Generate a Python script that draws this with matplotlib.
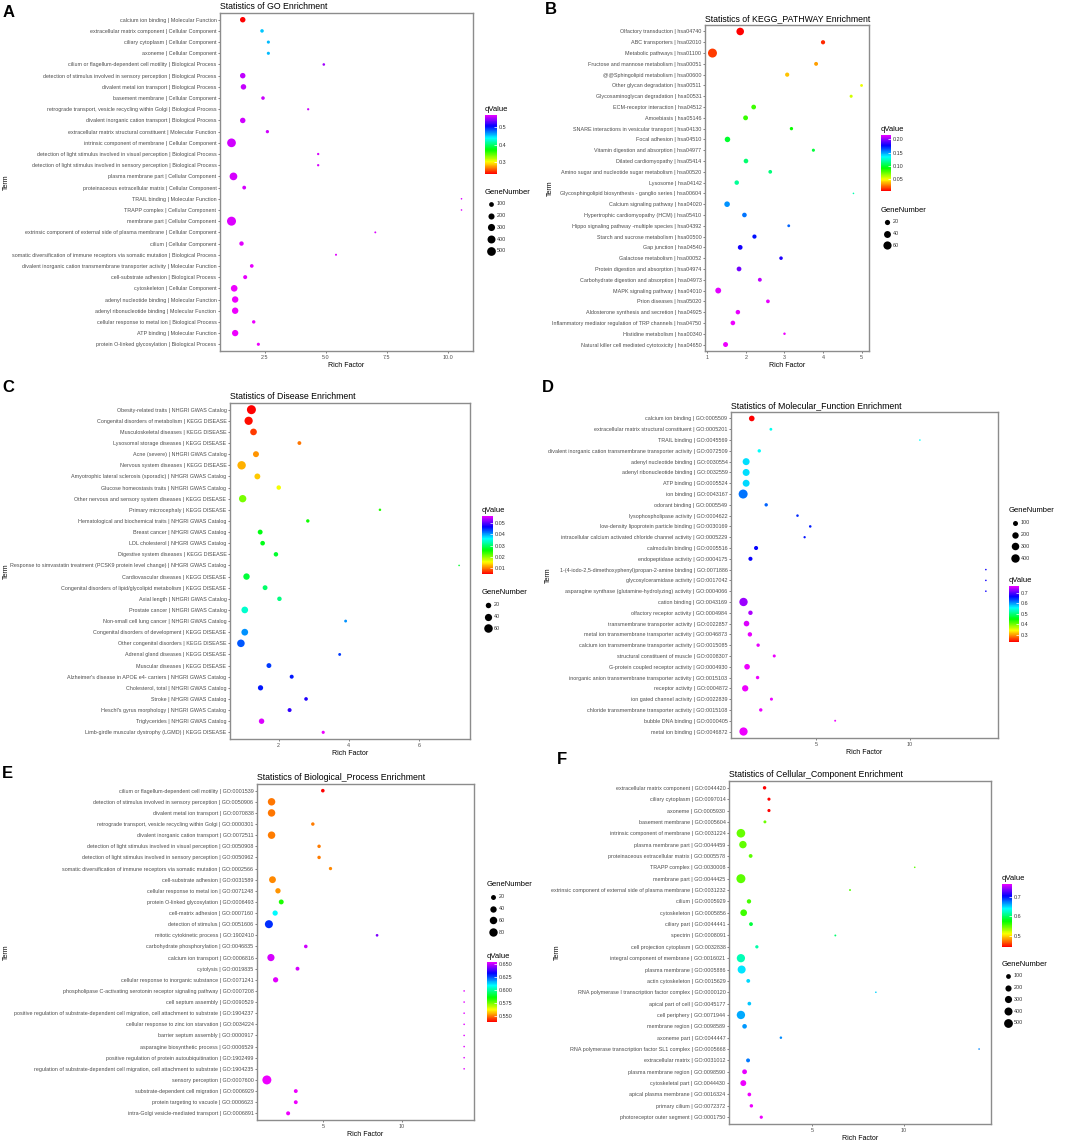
import numpy as np
import matplotlib
matplotlib.use("Agg")
import matplotlib.pyplot as plt
from matplotlib.colors import LinearSegmentedColormap, Normalize
from matplotlib.cm import ScalarMappable

# ---------------- data ----------------
terms_a = [
    "calcium ion binding | Molecular Function",
    "extracellular matrix component | Cellular Component",
    "ciliary cytoplasm | Cellular Component",
    "axoneme | Cellular Component",
    "cilium or flagellum-dependent cell motility | Biological Process",
    "detection of stimulus involved in sensory perception | Biological Process",
    "divalent metal ion transport | Biological Process",
    "basement membrane | Cellular Component",
    "retrograde transport, vesicle recycling within Golgi | Biological Process",
    "divalent inorganic cation transport | Biological Process",
    "extracellular matrix structural constituent | Molecular Function",
    "intrinsic component of membrane | Cellular Component",
    "detection of light stimulus involved in visual perception | Biological Process",
    "detection of light stimulus involved in sensory perception | Biological Process",
    "plasma membrane part | Cellular Component",
    "proteinaceous extracellular matrix | Cellular Component",
    "TRAIL binding | Molecular Function",
    "TRAPP complex | Cellular Component",
    "membrane part | Cellular Component",
    "extrinsic component of external side of plasma membrane | Cellular Component",
    "cilium | Cellular Component",
    "somatic diversification of immune receptors via somatic mutation | Biological Process",
    "divalent inorganic cation transmembrane transporter activity | Molecular Function",
    "cell-substrate adhesion | Biological Process",
    "cytoskeleton | Cellular Component",
    "adenyl nucleotide binding | Molecular Function",
    "adenyl ribonucleotide binding | Molecular Function",
    "cellular response to metal ion | Biological Process",
    "ATP binding | Molecular Function",
    "protein O-linked glycosylation | Biological Process",
]
rich_a = [1.60, 2.39, 2.65, 2.65, 4.92, 1.60, 1.63, 2.43, 4.28, 1.60, 2.61, 1.14, 4.69, 4.69, 1.22,
          1.66, 10.56, 10.56, 1.14, 7.03, 1.55, 5.42, 1.97, 1.70, 1.25, 1.29, 1.29, 2.05, 1.29, 2.24]
genes_a = [150, 40, 25, 25, 12, 150, 150, 40, 6, 150, 30, 500, 7, 7, 370,
           50, 2, 2, 540, 3, 80, 4, 45, 60, 250, 230, 230, 35, 220, 25]
q_a = [0.234, 0.452, 0.455, 0.455, 0.548, 0.556, 0.557, 0.558, 0.558, 0.559, 0.560, 0.560, 0.561, 0.561, 0.562,
       0.562, 0.563, 0.563, 0.564, 0.564, 0.565, 0.565, 0.566, 0.566, 0.567, 0.567, 0.567, 0.568, 0.568, 0.568]

terms_b = [
    "Olfactory transduction | hsa04740",
    "ABC transporters | hsa02010",
    "Metabolic pathways | hsa01100",
    "Fructose and mannose metabolism | hsa00051",
    "@@Sphingolipid metabolism | hsa00600",
    "Other glycan degradation | hsa00511",
    "Glycosaminoglycan degradation | hsa00531",
    "ECM-receptor interaction | hsa04512",
    "Amoebiasis | hsa05146",
    "SNARE interactions in vesicular transport | hsa04130",
    "Focal adhesion | hsa04510",
    "Vitamin digestion and absorption | hsa04977",
    "Dilated cardiomyopathy | hsa05414",
    "Amino sugar and nucleotide sugar metabolism | hsa00520",
    "Lysosome | hsa04142",
    "Glycosphingolipid biosynthesis - ganglio series | hsa00604",
    "Calcium signaling pathway | hsa04020",
    "Hypertrophic cardiomyopathy (HCM) | hsa05410",
    "Hippo signaling pathway -multiple species | hsa04392",
    "Starch and sucrose metabolism | hsa00500",
    "Gap junction | hsa04540",
    "Galactose metabolism | hsa00052",
    "Protein digestion and absorption | hsa04974",
    "Carbohydrate digestion and absorption | hsa04973",
    "MAPK signaling pathway | hsa04010",
    "Prion diseases | hsa05020",
    "Aldosterone synthesis and secretion | hsa04925",
    "Inflammatory mediator regulation of TRP channels | hsa04750",
    "Histidine metabolism | hsa00340",
    "Natural killer cell mediated cytotoxicity | hsa04650",
]
rich_b = [1.85, 4.00, 1.13, 3.82, 3.07, 5.00, 4.73, 2.20, 1.99, 3.18, 1.52, 3.75, 2.00, 2.63, 1.76,
          4.79, 1.51, 1.96, 3.11, 2.22, 1.85, 2.91, 1.82, 2.36, 1.28, 2.57, 1.79, 1.66, 3.00, 1.47]
genes_b = [50, 12, 75, 10, 12, 5, 6, 16, 17, 7, 23, 6, 15, 9, 14,
           3, 24, 15, 5, 12, 16, 8, 16, 10, 27, 9, 14, 15, 4, 18]
q_b = [0.007, 0.015, 0.018, 0.034, 0.040, 0.053, 0.057, 0.082, 0.083, 0.091, 0.100, 0.101, 0.110, 0.112, 0.118,
       0.121, 0.153, 0.157, 0.160, 0.174, 0.180, 0.182, 0.195, 0.208, 0.214, 0.215, 0.215, 0.216, 0.216, 0.216]

terms_c = [
    "Obesity-related traits | NHGRI GWAS Catalog",
    "Congenital disorders of metabolism | KEGG DISEASE",
    "Musculoskeletal diseases | KEGG DISEASE",
    "Lysosomal storage diseases | KEGG DISEASE",
    "Acne (severe) | NHGRI GWAS Catalog",
    "Nervous system diseases | KEGG DISEASE",
    "Amyotrophic lateral sclerosis (sporadic) | NHGRI GWAS Catalog",
    "Glucose homeostasis traits | NHGRI GWAS Catalog",
    "Other nervous and sensory system diseases | KEGG DISEASE",
    "Primary microcephaly | KEGG DISEASE",
    "Hematological and biochemical traits | NHGRI GWAS Catalog",
    "Breast cancer | NHGRI GWAS Catalog",
    "LDL cholesterol | NHGRI GWAS Catalog",
    "Digestive system diseases | KEGG DISEASE",
    "Response to simvastatin treatment (PCSK9 protein level change) | NHGRI GWAS Catalog",
    "Cardiovascular diseases | KEGG DISEASE",
    "Congenital disorders of lipid/glycolipid metabolism | KEGG DISEASE",
    "Axial length | NHGRI GWAS Catalog",
    "Prostate cancer | NHGRI GWAS Catalog",
    "Non-small cell lung cancer | NHGRI GWAS Catalog",
    "Congenital disorders of development | KEGG DISEASE",
    "Other congenital disorders | KEGG DISEASE",
    "Adrenal gland diseases | KEGG DISEASE",
    "Muscular diseases | KEGG DISEASE",
    "Alzheimer's disease in APOE e4- carriers | NHGRI GWAS Catalog",
    "Cholesterol, total | NHGRI GWAS Catalog",
    "Stroke | NHGRI GWAS Catalog",
    "Heschl's gyrus morphology | NHGRI GWAS Catalog",
    "Triglycerides | NHGRI GWAS Catalog",
    "Limb-girdle muscular dystrophy (LGMD) | KEGG DISEASE",
]
rich_c = [1.22, 1.14, 1.28, 2.59, 1.35, 0.94, 1.39, 2.00, 0.97, 4.89, 2.83, 1.47, 1.54, 1.92, 7.15,
          1.08, 1.61, 2.02, 1.03, 3.91, 1.03, 0.92, 3.74, 1.72, 2.37, 1.48, 2.78, 2.31, 1.51, 3.27]
genes_c = [68, 55, 33, 8, 25, 58, 24, 12, 42, 3, 6, 15, 13, 12, 2,
           30, 15, 12, 33, 4, 34, 45, 4, 15, 9, 18, 7, 9, 20, 5]
q_c = [0.0043, 0.0050, 0.0071, 0.0093, 0.0106, 0.0120, 0.0128, 0.0156, 0.0207, 0.0244, 0.0250, 0.0263, 0.0265,
       0.0276, 0.0276, 0.0280, 0.0300, 0.0310, 0.0340, 0.0408, 0.0408, 0.0433, 0.0446, 0.0446, 0.0460, 0.0460,
       0.0483, 0.0488, 0.0560, 0.0567]

terms_d = [
    "calcium ion binding | GO:0005509",
    "extracellular matrix structural constituent | GO:0005201",
    "TRAIL binding | GO:0045569",
    "divalent inorganic cation transmembrane transporter activity | GO:0072509",
    "adenyl nucleotide binding | GO:0030554",
    "adenyl ribonucleotide binding | GO:0032559",
    "ATP binding | GO:0005524",
    "ion binding | GO:0043167",
    "odorant binding | GO:0005549",
    "lysophospholipase activity | GO:0004622",
    "low-density lipoprotein particle binding | GO:0030169",
    "intracellular calcium activated chloride channel activity | GO:0005229",
    "calmodulin binding | GO:0005516",
    "endopeptidase activity | GO:0004175",
    "1-(4-iodo-2,5-dimethoxyphenyl)propan-2-amine binding | GO:0071886",
    "glycosylceramidase activity | GO:0017042",
    "asparagine synthase (glutamine-hydrolyzing) activity | GO:0004066",
    "cation binding | GO:0043169",
    "olfactory receptor activity | GO:0004984",
    "transmembrane transporter activity | GO:0022857",
    "metal ion transmembrane transporter activity | GO:0046873",
    "calcium ion transmembrane transporter activity | GO:0015085",
    "structural constituent of muscle | GO:0008307",
    "G-protein coupled receptor activity | GO:0004930",
    "inorganic anion transmembrane transporter activity | GO:0015103",
    "receptor activity | GO:0004872",
    "ion gated channel activity | GO:0022839",
    "chloride transmembrane transporter activity | GO:0015108",
    "bubble DNA binding | GO:0000405",
    "metal ion binding | GO:0046872",
]
rich_d = [1.58, 2.60, 10.55, 1.98, 1.28, 1.28, 1.28, 1.12, 2.35, 4.02, 4.70, 4.40, 1.81, 1.51, 14.07,
          14.07, 14.07, 1.14, 1.51, 1.30, 1.48, 1.92, 2.78, 1.33, 1.89, 1.23, 2.63, 2.06, 6.03, 1.14]
genes_d = [140, 15, 2, 30, 250, 250, 245, 470, 30, 10, 10, 6, 55, 55, 2,
           2, 2, 390, 70, 140, 70, 30, 20, 140, 30, 190, 20, 30, 3, 380]
q_d = [0.231, 0.552, 0.555, 0.557, 0.571, 0.571, 0.572, 0.616, 0.623, 0.648, 0.655, 0.659, 0.664, 0.668, 0.670,
       0.670, 0.671, 0.732, 0.738, 0.758, 0.762, 0.763, 0.764, 0.764, 0.765, 0.765, 0.766, 0.766, 0.766, 0.766]

terms_e = [
    "cilium or flagellum-dependent cell motility | GO:0001539",
    "detection of stimulus involved in sensory perception | GO:0050906",
    "divalent metal ion transport | GO:0070838",
    "retrograde transport, vesicle recycling within Golgi | GO:0000301",
    "divalent inorganic cation transport | GO:0072511",
    "detection of light stimulus involved in visual perception | GO:0050908",
    "detection of light stimulus involved in sensory perception | GO:0050962",
    "somatic diversification of immune receptors via somatic mutation | GO:0002566",
    "cell-substrate adhesion | GO:0031589",
    "cellular response to metal ion | GO:0071248",
    "protein O-linked glycosylation | GO:0006493",
    "cell-matrix adhesion | GO:0007160",
    "detection of stimulus | GO:0051606",
    "mitotic cytokinetic process | GO:1902410",
    "carbohydrate phosphorylation | GO:0046835",
    "calcium ion transport | GO:0006816",
    "cytolysis | GO:0019835",
    "cellular response to inorganic substance | GO:0071241",
    "phospholipase C-activating serotonin receptor signaling pathway | GO:0007208",
    "cell septum assembly | GO:0090529",
    "positive regulation of substrate-dependent cell migration, cell attachment to substrate | GO:1904237",
    "cellular response to zinc ion starvation | GO:0034224",
    "barrier septum assembly | GO:0000917",
    "asparagine biosynthetic process | GO:0006529",
    "positive regulation of protein autoubiquitination | GO:1902499",
    "regulation of substrate-dependent cell migration, cell attachment to substrate | GO:1904235",
    "sensory perception | GO:0007600",
    "substrate-dependent cell migration | GO:0006929",
    "protein targeting to vacuole | GO:0006623",
    "intra-Golgi vesicle-mediated transport | GO:0006891",
]
rich_e = [4.96, 1.68, 1.68, 4.32, 1.68, 4.72, 4.72, 5.45, 1.74, 2.09, 2.30, 1.91, 1.51, 8.43, 3.87,
          1.64, 3.34, 1.94, 14.0, 14.0, 14.0, 14.0, 14.0, 14.0, 14.0, 14.0, 1.38, 3.23, 3.23, 2.74]
genes_e = [8, 60, 60, 7, 60, 7, 7, 6, 48, 25, 20, 24, 72, 3, 8,
           55, 10, 24, 1, 1, 1, 1, 1, 1, 1, 1, 95, 10, 10, 11]
q_e = [0.538, 0.549, 0.549, 0.550, 0.550, 0.550, 0.550, 0.551, 0.551, 0.552, 0.583, 0.609, 0.628, 0.644, 0.651,
       0.652, 0.652, 0.653, 0.653, 0.653, 0.653, 0.653, 0.653, 0.653, 0.653, 0.653, 0.654, 0.654, 0.654, 0.654]

terms_f = [
    "extracellular matrix component | GO:0044420",
    "ciliary cytoplasm | GO:0097014",
    "axoneme | GO:0005930",
    "basement membrane | GO:0005604",
    "intrinsic component of membrane | GO:0031224",
    "plasma membrane part | GO:0044459",
    "proteinaceous extracellular matrix | GO:0005578",
    "TRAPP complex | GO:0030008",
    "membrane part | GO:0044425",
    "extrinsic component of external side of plasma membrane | GO:0031232",
    "cilium | GO:0005929",
    "cytoskeleton | GO:0005856",
    "ciliary part | GO:0044441",
    "spectrin | GO:0008091",
    "cell projection cytoplasm | GO:0032838",
    "integral component of membrane | GO:0016021",
    "plasma membrane | GO:0005886",
    "actin cytoskeleton | GO:0015629",
    "RNA polymerase I transcription factor complex | GO:0000120",
    "apical part of cell | GO:0045177",
    "cell periphery | GO:0071944",
    "membrane region | GO:0098589",
    "axoneme part | GO:0044447",
    "RNA polymerase transcription factor SL1 complex | GO:0005668",
    "extracellular matrix | GO:0031012",
    "plasma membrane region | GO:0098590",
    "cytoskeletal part | GO:0044430",
    "apical plasma membrane | GO:0016324",
    "primary cilium | GO:0072372",
    "photoreceptor outer segment | GO:0001750",
]
rich_f = [2.39, 2.63, 2.63, 2.41, 1.10, 1.21, 1.63, 10.58, 1.10, 7.05, 1.54, 1.25, 1.65, 6.25, 1.97,
          1.10, 1.14, 1.50, 8.46, 1.56, 1.10, 1.30, 3.28, 14.09, 1.49, 1.30, 1.23, 1.56, 1.67, 2.21]
genes_f = [35, 25, 25, 20, 480, 330, 50, 2, 530, 3, 75, 250, 50, 3, 30,
           430, 400, 50, 2, 45, 440, 90, 10, 2, 55, 100, 180, 45, 35, 28]
q_f = [0.443, 0.444, 0.445, 0.548, 0.549, 0.550, 0.551, 0.552, 0.553, 0.555, 0.558, 0.560, 0.590, 0.603, 0.618,
       0.622, 0.648, 0.650, 0.653, 0.655, 0.662, 0.667, 0.670, 0.672, 0.674, 0.765, 0.766, 0.767, 0.767, 0.767]

# ---------------- style ----------------
plt.rcParams['font.family'] = ['Liberation Sans', 'DejaVu Sans']
W, H = 1065, 1144
fig = plt.figure(figsize=(W / 100, H / 100), dpi=100)
cmap = LinearSegmentedColormap.from_list('rainbow_q', plt.get_cmap('hsv')(np.linspace(0, 0.833, 256)))
GREY = '#4D4D4D'


def rect(l, t, r, b):
    return [l / W, 1 - b / H, (r - l) / W, (b - t) / H]


def dot_size(g, lo, hi):
    r = np.clip((np.asarray(g, dtype=float) - lo) / (hi - lo), 0, 1)
    d_px = 1.6 + 7.4 * np.sqrt(r)
    return (d_px * 72 / 100) ** 2


# overlay in pixel coordinates for letters, "Term" labels and legends
ov = fig.add_axes([0, 0, 1, 1], zorder=5)
ov.set_xlim(0, W)
ov.set_ylim(H, 0)
ov.axis('off')


def panel(letter, letter_xy, title, terms, rich, genes, qv, box, xticks, xlabels, term_xy,
          cbar_box, cbar_ticks, cbar_labels, gene_xy, gene_breaks):
    ax = fig.add_axes(rect(*box))
    n = len(terms)
    ypos = np.arange(n)
    lo, hi = min(genes), max(genes)
    norm = Normalize(min(qv), max(qv))
    ax.scatter(rich, ypos, s=dot_size(genes, lo, hi), c=qv, cmap=cmap, norm=norm,
               linewidths=0, zorder=3)
    span = max(rich) - min(rich)
    ax.set_xlim(min(rich) - 0.05 * span, max(rich) + 0.05 * span)
    ax.set_ylim(n - 0.4, -0.6)
    ax.set_yticks(ypos)
    ax.set_yticklabels(terms, fontsize=3.85, color=GREY)
    ax.set_xticks(xticks)
    ax.set_xticklabels(xlabels, fontsize=3.9, color=GREY)
    ax.tick_params(length=1.6, width=0.5, color=GREY, pad=1)
    for sp in ax.spines.values():
        sp.set_color('#8C8C8C')
        sp.set_linewidth(1.0)
    ax.set_title(title, loc='left', fontsize=6.3, pad=3)
    ax.set_xlabel('Rich Factor', fontsize=5.0, labelpad=2)

    ov.text(letter_xy[0], letter_xy[1], letter, fontsize=12, fontweight='bold', ha='left', va='top')
    ov.text(term_xy[0], term_xy[1], 'Term', fontsize=5.0, rotation=90, ha='center', va='center')

    # qValue colour bar
    x0, t0, x1, b0 = cbar_box
    ov.text(x0, t0 - 2, 'qValue', fontsize=5.5, ha='left', va='bottom')
    cax = fig.add_axes(rect(x0, t0, x1, b0))
    cb = fig.colorbar(ScalarMappable(norm=norm, cmap=cmap), cax=cax)
    cb.outline.set_visible(False)
    cb.set_ticks(cbar_ticks)
    cb.set_ticklabels(cbar_labels)
    cb.ax.tick_params(labelsize=3.9, length=2, width=0.5, color='white', direction='in',
                      pad=1.5, labelcolor='#333333')

    # GeneNumber size legend
    gx, gy = gene_xy
    ov.text(gx, gy, 'GeneNumber', fontsize=5.5, ha='left', va='center')
    for i, g in enumerate(gene_breaks):
        yy = gy + 11.8 * (i + 1)
        ov.scatter([gx + 5.5], [yy], s=dot_size(g, lo, hi), color='black', linewidths=0)
        ov.text(gx + 12, yy, str(g), fontsize=3.9, color='#333333', ha='left', va='center')
    return ax


panel('A', (3, 5), 'Statistics of GO Enrichment', terms_a, rich_a, genes_a, q_a,
      (220, 13, 473, 351), [2.5, 5.0, 7.5, 10.0], ['2.5', '5.0', '7.5', '10.0'], (6, 182),
      (485, 115, 497, 174), [0.3, 0.4, 0.5], ['0.3', '0.4', '0.5'], (485, 192), [100, 200, 300, 400, 500])

panel('B', (545, 2), 'Statistics of KEGG_PATHWAY Enrichment', terms_b, rich_b, genes_b, q_b,
      (705, 25, 869, 351), [1, 2, 3, 4, 5], ['1', '2', '3', '4', '5'], (550, 188),
      (881, 135, 891, 191), [0.05, 0.10, 0.15, 0.20], ['0.05', '0.10', '0.15', '0.20'],
      (881, 210), [20, 40, 60])

panel('C', (2, 380), 'Statistics of Disease Enrichment', terms_c, rich_c, genes_c, q_c,
      (230, 403, 470, 739), [2, 4, 6], ['2', '4', '6'], (6, 571),
      (482, 516, 493, 574), [0.01, 0.02, 0.03, 0.04, 0.05], ['0.01', '0.02', '0.03', '0.04', '0.05'],
      (482, 593), [20, 40, 60])

panel('D', (542, 380), 'Statistics of Molecular_Function Enrichment', terms_d, rich_d, genes_d, q_d,
      (731, 412, 998, 738), [5, 10], ['5', '10'], (548, 575),
      (1009, 586, 1019, 642), [0.3, 0.4, 0.5, 0.6, 0.7], ['0.3', '0.4', '0.5', '0.6', '0.7'],
      (1009, 511), [100, 200, 300, 400])

panel('E', (2, 766), 'Statistics of Biological_Process Enrichment', terms_e, rich_e, genes_e, q_e,
      (257, 784, 474, 1120), [5, 10], ['5', '10'], (6, 952),
      (487, 962, 497, 1022), [0.550, 0.575, 0.600, 0.625, 0.650],
      ['0.550', '0.575', '0.600', '0.625', '0.650'], (487, 885), [20, 40, 60, 80])

panel('F', (557, 752), 'Statistics of Cellular_Component Enrichment', terms_f, rich_f, genes_f, q_f,
      (729, 781, 991, 1124), [5, 10], ['5', '10'], (557, 952),
      (1002, 884, 1012, 947), [0.5, 0.6, 0.7], ['0.5', '0.6', '0.7'],
      (1002, 964), [100, 200, 300, 400, 500])

fig.savefig('out.png', dpi=100)
